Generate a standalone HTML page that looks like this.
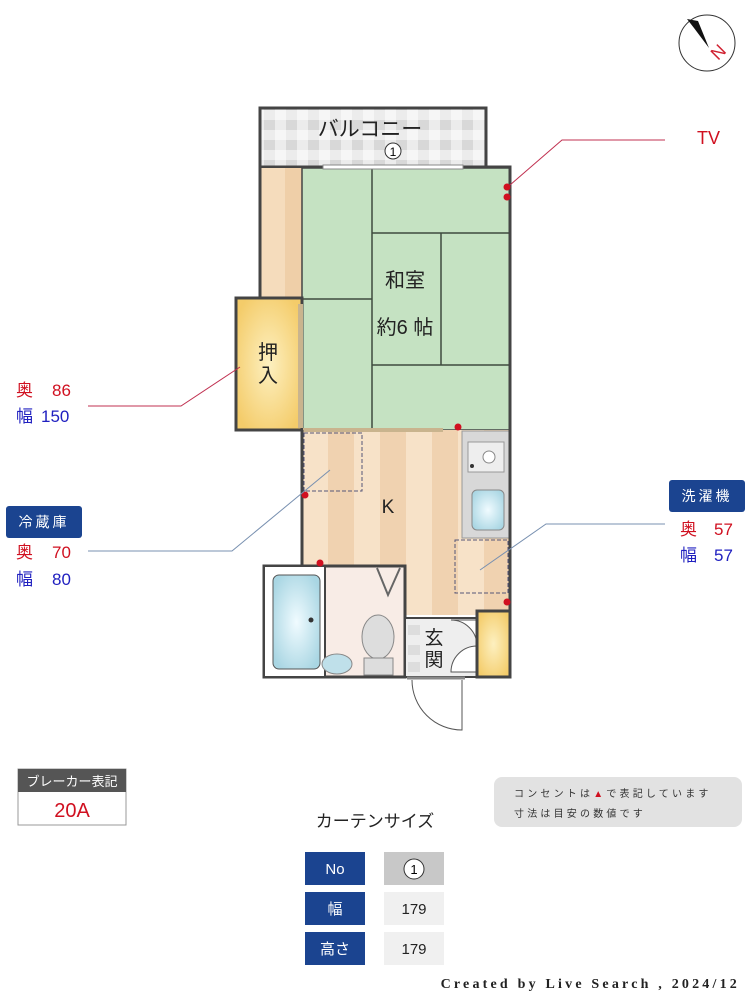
<!DOCTYPE html>
<html><head><meta charset="utf-8"><style>
html,body{margin:0;padding:0;background:#fff;}
svg{display:block;}
text{font-family:"Liberation Sans","Noto Sans CJK JP",sans-serif;}
</style></head><body>
<svg width="750" height="1000" viewBox="0 0 750 1000" xmlns="http://www.w3.org/2000/svg">
<defs>
<pattern id="tile" width="22" height="20" patternUnits="userSpaceOnUse">
<rect width="22" height="20" fill="#ececec"/><rect width="11" height="10" fill="#d8d8d8"/><rect x="11" y="10" width="11" height="10" fill="#f6f6f6"/>
</pattern>
<pattern id="wood" x="302" width="52" height="10" patternUnits="userSpaceOnUse">
<rect width="52" height="10" fill="#f7e2c8"/><rect x="26" width="26" height="10" fill="#f0d2b0"/>
</pattern>
<radialGradient id="yel" cx="0.5" cy="0.5" r="0.6"><stop offset="0" stop-color="#fdf0c0"/><stop offset="1" stop-color="#f4cc6a"/></radialGradient>
<radialGradient id="tub" cx="0.5" cy="0.5" r="0.6"><stop offset="0" stop-color="#f0fbff"/><stop offset="1" stop-color="#a9d6e3"/></radialGradient>
</defs>

<circle cx="707" cy="43" r="28" fill="#fff" stroke="#333" stroke-width="1"/>
<polygon points="687,19 698,21 709,48 694,28" fill="#111"/>
<text x="713" y="63" fill="#d02030" font-size="18" transform="rotate(-45 713 56)">N</text>

<rect x="260" y="108" width="226" height="59" fill="url(#tile)" stroke="#444" stroke-width="3"/>
<text x="370" y="136" font-size="21" text-anchor="middle" fill="#222">バルコニー</text>
<circle cx="393" cy="151" r="8" fill="#fff" stroke="#333"/>
<text x="393" y="156" font-size="12" text-anchor="middle">1</text>

<rect x="261" y="168" width="41" height="130" fill="#f5dcbc"/>
<rect x="285" y="168" width="17" height="130" fill="#efcfa8"/>

<rect x="302" y="168" width="208" height="262" fill="#c5e2c2" stroke="#444" stroke-width="1.5"/>
<g stroke="#3e4a3e" stroke-width="1.5" fill="none">
<line x1="372" y1="168" x2="372" y2="430"/>
<line x1="372" y1="233" x2="510" y2="233"/>
<line x1="441" y1="233" x2="441" y2="365"/>
<line x1="372" y1="365" x2="510" y2="365"/>
<line x1="302" y1="299" x2="372" y2="299"/>
</g>
<text x="405" y="287" font-size="20" text-anchor="middle" fill="#222">和室</text>
<text x="405" y="334" font-size="20" text-anchor="middle" fill="#222">約6 帖</text>
<rect x="323" y="165" width="140" height="4" fill="#fff" stroke="#888" stroke-width="1"/>

<rect x="236" y="298" width="66" height="132" fill="url(#yel)" stroke="#444" stroke-width="3"/>
<rect x="298" y="304" width="5" height="124" fill="#c9b48e"/>
<text x="268" y="359" font-size="20" text-anchor="middle" fill="#222">押</text>
<text x="268" y="382" font-size="20" text-anchor="middle" fill="#222">入</text>

<rect x="302" y="430" width="208" height="185" fill="url(#wood)"/>
<rect x="303" y="428" width="140" height="4" fill="#c9b48e"/>
<rect x="462" y="431" width="47" height="107" fill="#d8d8d8" stroke="#999"/>
<rect x="468" y="442" width="36" height="30" fill="#eee" stroke="#999"/>
<circle cx="489" cy="457" r="6" fill="#fff" stroke="#888"/>
<circle cx="472" cy="466" r="2" fill="#333"/>
<rect x="472" y="490" width="32" height="40" rx="5" fill="url(#tub)" stroke="#888"/>
<rect x="304" y="433" width="58" height="58" fill="none" stroke="#557" stroke-dasharray="4,2"/>
<rect x="455" y="540" width="53" height="53" fill="none" stroke="#557" stroke-dasharray="4,2"/>
<text x="388" y="513" font-size="19" text-anchor="middle" fill="#222">K</text>

<rect x="264" y="566" width="141" height="111" fill="#f8ece6" stroke="#444" stroke-width="3"/>
<rect x="265" y="567" width="60" height="109" fill="#fff"/>
<line x1="325" y1="567" x2="325" y2="677" stroke="#444" stroke-width="2"/>
<rect x="273" y="575" width="47" height="94" rx="6" fill="url(#tub)" stroke="#555"/>
<circle cx="311" cy="620" r="2.5" fill="#333"/>
<polyline points="377,568 388,595 400,568" fill="none" stroke="#666" stroke-width="2"/>
<ellipse cx="378" cy="637" rx="16" ry="22" fill="#ddd" stroke="#888"/>
<rect x="364" y="658" width="29" height="17" fill="#ddd" stroke="#888"/>
<ellipse cx="337" cy="664" rx="15" ry="10" fill="#bfe0ea" stroke="#888"/>

<rect x="405" y="618" width="72" height="59" fill="#eee" stroke="#444" stroke-width="2"/>
<rect x="408" y="625" width="12" height="10" fill="#ddd"/><rect x="408" y="645" width="12" height="10" fill="#ddd"/><rect x="408" y="662" width="12" height="10" fill="#ddd"/>
<path d="M451 620 A26 26 0 0 1 477 646 L477 620 Z" fill="#fff" stroke="#555"/>
<path d="M477 646 A26 26 0 0 0 451 672 L477 672 Z" fill="#fff" stroke="#555"/>
<text x="434" y="644" font-size="19" text-anchor="middle" fill="#222">玄</text>
<text x="434" y="666" font-size="19" text-anchor="middle" fill="#222">関</text>
<rect x="477" y="611" width="33" height="66" fill="url(#yel)" stroke="#444" stroke-width="3"/>
<line x1="407" y1="678" x2="465" y2="678" stroke="#888" stroke-width="3"/>
<path d="M412 680 A50 50 0 0 0 462 730 L462 680" fill="none" stroke="#555"/>

<g stroke="#444" stroke-width="3" fill="none">
<polyline points="260,167 260,298"/>
<polyline points="486,167 510,167 510,611"/>
<polyline points="302,430 302,566"/>
</g>

<g fill="#d01020">
<circle cx="507" cy="187" r="3.5"/><circle cx="507" cy="197" r="3.5"/>
<circle cx="458" cy="427" r="3.5"/><circle cx="305" cy="495" r="3.5"/>
<circle cx="320" cy="563" r="3.5"/><circle cx="507" cy="602" r="3.5"/>
</g>

<polyline points="510,185 562,140 665,140" fill="none" stroke="#c03050" stroke-width="1"/>
<text x="697" y="144" font-size="18" fill="#d01020">TV</text>
<polyline points="88,406 181,406 240,367" fill="none" stroke="#c03050" stroke-width="1"/>
<text x="16" y="396" font-size="17" fill="#d01020">奥</text><text x="52" y="396" font-size="17" fill="#d01020">86</text>
<text x="16" y="422" font-size="17" fill="#2020c0">幅</text><text x="41" y="422" font-size="17" fill="#2020c0">150</text>

<polyline points="88,551 232,551 330,470" fill="none" stroke="#7890b0" stroke-width="1"/>
<rect x="6" y="506" width="76" height="32" rx="3" fill="#1b4490"/>
<text x="44" y="527" font-size="14" text-anchor="middle" fill="#fff" letter-spacing="3">冷蔵庫</text>
<text x="16" y="558" font-size="17" fill="#d01020">奥</text><text x="52" y="558" font-size="17" fill="#d01020">70</text>
<text x="16" y="585" font-size="17" fill="#2020c0">幅</text><text x="52" y="585" font-size="17" fill="#2020c0">80</text>

<polyline points="665,524 546,524 480,570" fill="none" stroke="#7890b0" stroke-width="1"/>
<rect x="669" y="480" width="76" height="32" rx="3" fill="#1b4490"/>
<text x="707" y="501" font-size="14" text-anchor="middle" fill="#fff" letter-spacing="3">洗濯機</text>
<text x="680" y="535" font-size="17" fill="#d01020">奥</text><text x="714" y="535" font-size="17" fill="#d01020">57</text>
<text x="680" y="561" font-size="17" fill="#2020c0">幅</text><text x="714" y="561" font-size="17" fill="#2020c0">57</text>

<rect x="18" y="769" width="108" height="56" fill="#fff" stroke="#999"/>
<rect x="18" y="769" width="108" height="23" fill="#555"/>
<text x="72" y="786" font-size="13" text-anchor="middle" fill="#fff">ブレーカー表記</text>
<text x="72" y="817" font-size="20" text-anchor="middle" fill="#d01020">20A</text>

<rect x="494" y="777" width="248" height="50" rx="8" fill="#e2e2e2"/>
<text x="514" y="797" font-size="10" fill="#333" letter-spacing="3.2">コンセントは<tspan fill="#d01020">▲</tspan>で表記しています</text>
<text x="514" y="817" font-size="10" fill="#333" letter-spacing="3.2">寸法は目安の数値です</text>

<text x="375" y="827" font-size="17" text-anchor="middle" fill="#222">カーテンサイズ</text>
<rect x="305" y="852" width="60" height="33" fill="#1b4490"/>
<text x="335" y="874" font-size="15" text-anchor="middle" fill="#fff">No</text>
<rect x="384" y="852" width="60" height="33" fill="#c8c8c8"/>
<circle cx="414" cy="869" r="10" fill="#fff" stroke="#333"/>
<text x="414" y="874" font-size="13" text-anchor="middle">1</text>
<rect x="305" y="892" width="60" height="33" fill="#1b4490"/>
<text x="335" y="914" font-size="15" text-anchor="middle" fill="#fff">幅</text>
<rect x="384" y="892" width="60" height="33" fill="#f0f0f0"/>
<text x="414" y="914" font-size="15" text-anchor="middle" fill="#222">179</text>
<rect x="305" y="932" width="60" height="33" fill="#1b4490"/>
<text x="335" y="954" font-size="15" text-anchor="middle" fill="#fff">高さ</text>
<rect x="384" y="932" width="60" height="33" fill="#f0f0f0"/>
<text x="414" y="954" font-size="15" text-anchor="middle" fill="#222">179</text>

<text x="740" y="988" font-size="14" text-anchor="end" fill="#222" letter-spacing="3.2" font-weight="bold" style="font-family:'Liberation Serif',serif">Created by Live Search , 2024/12</text>
</svg>
</body></html>
